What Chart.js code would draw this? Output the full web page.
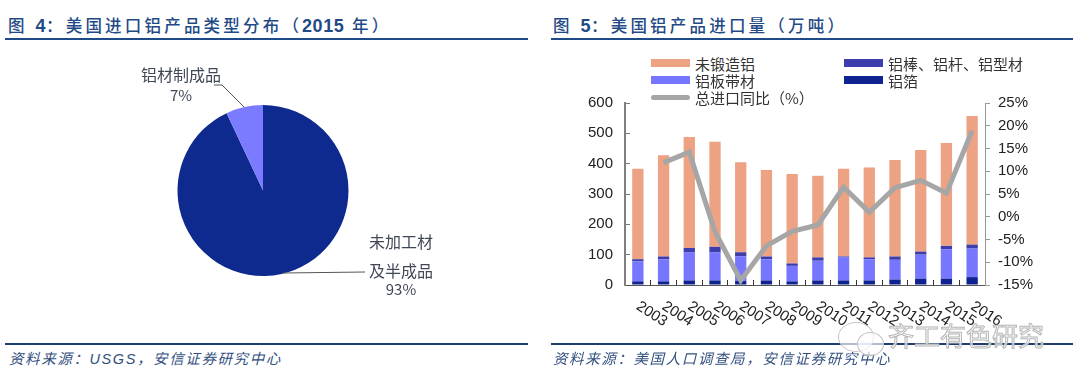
<!DOCTYPE html>
<html>
<head>
<meta charset="utf-8">
<script src="https://cdn.jsdelivr.net/npm/chart.js@4"></script>
<style>
    html, body { margin: 0; padding: 0; background: #fff; }
    body { width: 1080px; height: 382px; position: relative; overflow: hidden; font-family: "Liberation Sans", "Noto Sans CJK SC", sans-serif; }
    .title { position: absolute; top: 13px; font: 500 16.5px "Liberation Sans", "Noto Sans CJK SC"; letter-spacing: 3.2px; color: #1f4a86; white-space: nowrap; }
    .title b { font-weight: 700; font-size: 18px; letter-spacing: 0.5px; }
    .rule { position: absolute; height: 2px; }
    .source { position: absolute; top: 347px; font: italic 14.5px "Liberation Sans", "Noto Sans CJK SC"; letter-spacing: 1.6px; color: #33507f; white-space: nowrap; }
    canvas { position: absolute; }
    .leg { position: absolute; font: 15px "Noto Sans CJK SC"; color: #333; white-space: nowrap; line-height: 17px; }
    .leg i { position: absolute; left: -44px; top: 4px; width: 39px; height: 8px; }
    .leg i.line { height: 5px; top: 6px; border-radius: 3px; }
    .pielabel { position: absolute; font: 16px "Noto Sans CJK SC"; color: #404858; text-align: center; white-space: nowrap; }
    .mark { position: absolute; left: 888px; top: 316px; font: 26px "Noto Sans CJK SC"; color: rgba(255,255,255,0.75); -webkit-text-stroke: 1px #b5b5b5; white-space: nowrap; }
    .bubble { position: absolute; border: 1px solid #c4c4c4; border-radius: 50%; background: rgba(255,255,255,0.65); }
</style>
</head>
<body>
<div class="title" style="left:8px">图 <b>4</b>：美国进口铝产品类型分布（<b>2015</b> 年）</div>
<div class="rule" style="left:5px;width:523px;top:38px;background:#1f4a8a"></div>
<div class="title" style="left:553px">图 <b>5</b>：美国铝产品进口量（万吨）</div>
<div class="rule" style="left:551px;width:522px;top:38px;background:#1f4a8a"></div>

<canvas id="pieChart" width="540" height="280" style="left:0;top:60px"></canvas>
<canvas id="importChart" width="540" height="268" style="left:540px;top:77px"></canvas>

<div class="pielabel" style="left:141px;top:64px;line-height:20px">铝材制成品<br><span style="font-size:15px">7%</span></div>
<div class="pielabel" style="left:369px;top:227px;line-height:29px">未加工材<br>及半成品<br><span style="font-size:15px;line-height:14px;display:block;margin-top:-3px">93%</span></div>

<div id="legend"></div>

<div class="rule" style="left:5px;width:523px;top:343px;background:#1f3f6f"></div>
<div class="rule" style="left:551px;width:522px;top:343px;background:#1f3f6f"></div>
<div class="source" style="left:9px">资料来源：USGS，安信证券研究中心</div>
<div class="source" style="left:553px">资料来源：美国人口调查局，安信证券研究中心</div>

<div class="bubble" style="left:838px;top:322px;width:34px;height:28px"></div>
<div class="bubble" style="left:857px;top:332px;width:25px;height:22px"></div>
<div class="mark">齐工有色研究</div>

<script>
// Figure 4
const pieLabels = ['未加工材及半成品', '铝材制成品'];
const pieValues = [93, 7];

// Figure 5
const years = ['2003', '2004', '2005', '2006', '2007', '2008', '2009', '2010', '2011', '2012', '2013', '2014', '2015', '2016'];
const foil = [12, 12, 15, 15, 13, 15, 12, 15, 15, 15, 18, 21, 21, 26];
const plate = [66, 73, 92, 92, 82, 70, 51, 65, 77, 70, 65, 79, 97, 94];
const rods = [7, 9, 15, 19, 13, 9, 8, 11, 2, 6, 11, 10, 11, 13];
const unwrought = [298, 334, 366, 346, 297, 285, 295, 269, 289, 296, 318, 335, 339, 424];
const growth = [null, 11.9, 14.2, -3.3, -14, -6.4, -3.2, -1.8, 6.5, 1, 6.4, 8, 5.2, 18.9];

const legendNames = ['未锻造铝', '铝棒、铝杆、铝型材', '铝板带材', '铝箔', '总进口同比（%）'];

const dark = '#0f2a8e';
const colors = { unwrought: '#eca283', rods: '#3d3dab', plate: '#7676ff', foil: '#0e2390', growth: '#a6a6a6' };

// pie leader lines
const leaderLines = {
    id: 'leaderLines',
    afterDraw(chart) {
        const ctx = chart.ctx;
        ctx.save();
        ctx.strokeStyle = '#555';
        ctx.lineWidth = 1;
        ctx.beginPath();
        ctx.moveTo(214, 25);
        ctx.lineTo(222, 25);
        ctx.lineTo(244, 47);
        ctx.moveTo(283, 213);
        ctx.lineTo(365, 212);
        ctx.stroke();
        ctx.restore();
    }
};

new Chart(document.getElementById('pieChart'), {
    type: 'pie',
    data: {
        labels: pieLabels,
        datasets: [{ data: pieValues, backgroundColor: [dark, '#7b7bff'], borderWidth: 0 }]
    },
    options: {
        responsive: false,
        animation: false,
        layout: { padding: { top: 45, bottom: 64, right: 14 } },
        plugins: { legend: { display: false }, tooltip: { enabled: false } }
    },
    plugins: [leaderLines]
});

// slanted year labels, chart.js only right-aligns rotated ticks
const slantedYears = {
    id: 'slantedYears',
    afterDraw(chart) {
        const ctx = chart.ctx;
        const x = chart.scales.x;
        ctx.save();
        ctx.font = '15px "Liberation Sans"';
        ctx.fillStyle = '#222';
        ctx.textAlign = 'left';
        ctx.textBaseline = 'middle';
        years.forEach((year, i) => {
            ctx.save();
            ctx.translate(x.getPixelForValue(i), x.top + 20);
            ctx.rotate(33 * Math.PI / 180);
            ctx.fillText(year, 0, 0);
            ctx.restore();
        });
        ctx.restore();
    }
};

function barSet(label, data, color) {
    return { type: 'bar', label: label, data: data, backgroundColor: color, barPercentage: 0.44, categoryPercentage: 1, yAxisID: 'y', order: 2 };
}

const importChart = new Chart(document.getElementById('importChart'), {
    data: {
        labels: years,
        datasets: [
            barSet(legendNames[3], foil, colors.foil),
            barSet(legendNames[2], plate, colors.plate),
            barSet(legendNames[1], rods, colors.rods),
            barSet(legendNames[0], unwrought, colors.unwrought),
            { type: 'line', label: legendNames[4], data: growth, borderColor: colors.growth, borderWidth: 5, pointRadius: 0, tension: 0, yAxisID: 'y2', order: 1, spanGaps: false }
        ]
    },
    options: {
        responsive: false,
        animation: false,
        layout: { padding: 0 },
        plugins: { legend: { display: false }, tooltip: { enabled: false } },
        scales: {
            x: {
                stacked: true,
                offset: true,
                afterFit: s => { s.height = 60; },
                grid: { drawOnChartArea: false, offset: true, tickLength: -5, color: '#333' },
                border: { color: '#555', width: 1 },
                ticks: { display: false }
            },
            y: {
                stacked: true,
                min: 0,
                max: 600,
                position: 'left',
                afterFit: s => { s.width = 85; },
                grid: { drawOnChartArea: false, tickLength: -5, color: '#777' },
                border: { color: '#808080', width: 2 },
                ticks: { stepSize: 100, color: '#222', padding: 17, font: { family: '"Liberation Sans"', size: 15 } }
            },
            y2: {
                min: -15,
                max: 25,
                position: 'right',
                afterFit: s => { s.width = 95; },
                grid: { drawOnChartArea: false, tickLength: 5, color: '#999' },
                border: { color: '#999', width: 1 },
                ticks: { stepSize: 5, color: '#222', padding: 8, callback: v => v + '%', font: { family: '"Liberation Sans"', size: 15 } }
            }
        }
    },
    plugins: [slantedYears]
});

// html legend, two columns like the original
const legendBox = document.getElementById('legend');
const legendSpots = [[695, 55], [888, 55], [695, 72], [888, 72], [695, 89]];
const legendColors = [colors.unwrought, colors.rods, colors.plate, colors.foil, colors.growth];
legendNames.forEach((name, i) => {
    const item = document.createElement('div');
    item.className = 'leg';
    item.style.left = legendSpots[i][0] + 'px';
    item.style.top = legendSpots[i][1] + 'px';
    item.innerHTML = '<i class="' + (i === 4 ? 'line' : '') + '" style="background:' + legendColors[i] + '"></i>' + name;
    legendBox.appendChild(item);
});
</script>
</body>
</html>
